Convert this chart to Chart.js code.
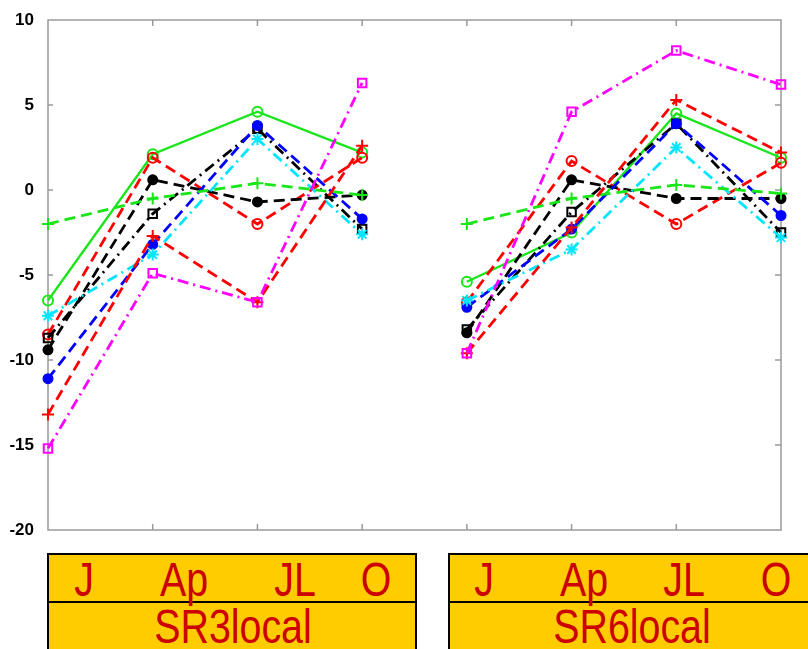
<!DOCTYPE html>
<html>
<head>
<meta charset="utf-8">
<script src="https://cdn.jsdelivr.net/npm/chart.js"></script>
<style>
    body { margin: 0; background: #fff; }
    #wrap { position: relative; width: 808px; height: 649px; overflow: hidden; }
    #chart { position: absolute; left: 0; top: 0; }
    .box { position: absolute; top: 553px; width: 366px; height: 110px; background: #ffcc00; border: 2px solid #000; }
    .box .sep { position: absolute; left: 0; right: 0; top: 46px; border-top: 2px solid #000; }
    .lbl { position: absolute; font-family: "Liberation Sans", Arial, sans-serif; font-size: 48px; line-height: 48px;
           color: #cc0000; white-space: nowrap; transform: translateX(-50%) scaleX(0.82); }
</style>
</head>
<body>
<div id="wrap">
    <canvas id="chart" width="808" height="550"></canvas>
    <div class="box" id="box1" style="left:47px"><div class="sep"></div></div>
    <div class="box" id="box2" style="left:448px"><div class="sep"></div></div>
</div>

<script>
(() => {
    // x positions: 4 months for each of two sites
    const months = ["J", "Ap", "JL", "O"];
    const groups = ["SR3local", "SR6local"];
    const categories = [...months, ...months];
    const yTicks = [-20, -15, -10, -5, 0, 5, 10];

    const greenCircle   = [-6.5,  2.1,  4.6,  2.2, -5.4, -2.5,  4.5,  1.9];
    const redCircle     = [-8.5,  1.9, -2.0,  1.9, -6.6,  1.7, -2.0,  1.6];
    const blackDot      = [-9.4,  0.6, -0.7, -0.3, -8.4,  0.6, -0.5, -0.5];
    const blackSquare   = [-8.7, -1.4,  3.6, -2.3, -8.2, -1.3,  3.9, -2.5];
    const blueDot       = [-11.1, -3.2, 3.8, -1.7, -6.9, -2.3,  3.9, -1.5];
    const cyanStar      = [-7.4, -3.8,  3.0, -2.6, -6.5, -3.5,  2.5, -2.8];
    const greenPlus     = [-2.0, -0.5,  0.4, -0.3, -2.0, -0.5,  0.3, -0.2];
    const redPlus       = [-13.2, -2.7, -6.6, 2.6, -9.6, -2.2,  5.3,  2.2];
    const magentaSquare = [-15.2, -4.9, -6.6, 6.3, -9.6,  4.6,  8.2,  6.2];

    const DASH = [11, 6];
    const DASHDOT = [11, 5, 2, 5];

    function series(label, data, color, dash, style, filled, radius) {
        return {
            label: label,
            data: data,
            borderColor: color,
            borderWidth: dash.length ? 2.8 : 2.3,
            borderDash: dash,
            // no line between the two sites
            segment: { borderColor: ctx => ctx.p0DataIndex === 3 ? "transparent" : color },
            pointStyle: style,
            pointRadius: radius,
            pointBorderWidth: 2,
            pointBorderColor: color,
            pointBackgroundColor: filled ? color : "rgba(0,0,0,0)",
            tension: 0,
            clip: false
        };
    }

    const datasets = [
        series("magenta", magentaSquare, "#ff00ff", DASHDOT, "rect", false, 6),
        series("redPlus", redPlus, "#ff0000", DASH, "cross", false, 6),
        series("greenPlus", greenPlus, "#19e619", DASH, "cross", false, 6),
        series("cyan", cyanStar, "#00e6ff", DASHDOT, "star", false, 6),
        series("blue", blueDot, "#0000ff", DASH, "circle", true, 4.5),
        series("blackSquare", blackSquare, "#000000", DASHDOT, "rect", false, 6),
        series("blackDot", blackDot, "#000000", DASH, "circle", true, 4.5),
        series("redCircle", redCircle, "#ff0000", DASH, "circle", false, 5),
        series("greenCircle", greenCircle, "#19e619", [], "circle", false, 5)
    ];

    // gray frame with inward tick marks, like the original axes box
    const framePlugin = {
        id: "frame",
        beforeDatasetsDraw(chart) {
            const { ctx, chartArea: a, scales } = chart;
            ctx.save();
            ctx.strokeStyle = "#9a9a9a";
            ctx.lineWidth = 1.5;
            ctx.strokeRect(a.left, a.top, a.right - a.left, a.bottom - a.top);
            ctx.beginPath();
            for (let i = 1; i < categories.length - 1; i++) {
                const x = scales.x.getPixelForValue(i);
                ctx.moveTo(x, a.top); ctx.lineTo(x, a.top + 6);
                ctx.moveTo(x, a.bottom); ctx.lineTo(x, a.bottom - 6);
            }
            yTicks.slice(1, -1).forEach(v => {
                const y = scales.y.getPixelForValue(v);
                ctx.moveTo(a.left, y); ctx.lineTo(a.left + 5, y);
                ctx.moveTo(a.right, y); ctx.lineTo(a.right - 6, y);
            });
            ctx.stroke();
            ctx.restore();
        }
    };

    new Chart(document.getElementById("chart"), {
        type: "line",
        data: { labels: categories, datasets: datasets },
        options: {
            responsive: false,
            animation: false,
            layout: { padding: { top: 20, right: 27, bottom: 20, left: 0 } },
            plugins: { legend: { display: false }, tooltip: { enabled: false } },
            scales: {
                x: { display: false, offset: false },
                y: {
                    min: -20, max: 10,
                    grid: { display: false },
                    border: { display: false },
                    afterFit: s => { s.width = 48; },
                    ticks: {
                        stepSize: 5,
                        padding: 6,
                        color: "#000",
                        font: { family: "Liberation Sans", size: 17, weight: "bold" }
                    }
                }
            }
        },
        plugins: [framePlugin]
    });

    // month and site labels in the boxes under the axes
    const monthX = [[35, 135, 246, 327], [34, 134, 234, 326]];
    const siteX = [184, 182];
    ["box1", "box2"].forEach((id, g) => {
        const box = document.getElementById(id);
        months.forEach((m, i) => {
            const s = document.createElement("span");
            s.className = "lbl";
            s.textContent = m;
            s.style.left = monthX[g][i] + "px";
            s.style.top = "1px";
            box.appendChild(s);
        });
        const s = document.createElement("span");
        s.className = "lbl";
        s.textContent = groups[g];
        s.style.left = siteX[g] + "px";
        s.style.top = "48px";
        box.appendChild(s);
    });
})();
</script>
</body>
</html>
